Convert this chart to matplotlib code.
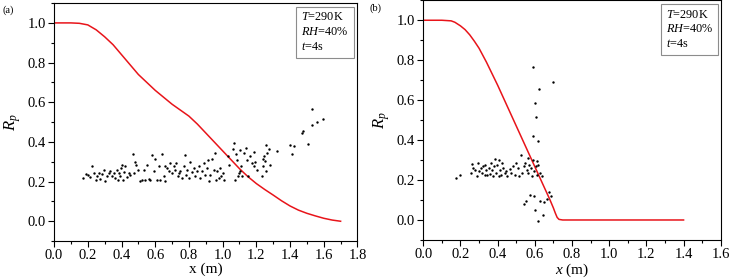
import matplotlib
matplotlib.use("Agg")
import matplotlib.pyplot as plt
from matplotlib.ticker import MultipleLocator

plt.rcParams["font.family"] = ["Liberation Serif", "DejaVu Serif"]
plt.rcParams["mathtext.fontset"] = "custom"
plt.rcParams["mathtext.rm"] = "Liberation Serif"
plt.rcParams["mathtext.it"] = "Liberation Serif:italic"

# --- panel (a) data ---
curve_a_x = [0.0, 0.1, 0.15, 0.2, 0.25, 0.3, 0.35, 0.4, 0.45, 0.5, 0.55, 0.6, 0.65, 0.7,
             0.75, 0.8, 0.85, 0.9, 0.95, 1.0, 1.05, 1.1, 1.15, 1.2, 1.25, 1.3, 1.35, 1.4,
             1.45, 1.5, 1.55, 1.6, 1.65, 1.7]
curve_a_y = [1.0, 1.0, 0.998, 0.99, 0.965, 0.93, 0.89, 0.84, 0.79, 0.74, 0.70, 0.66, 0.625, 0.59,
             0.56, 0.53, 0.49, 0.445, 0.40, 0.355, 0.31, 0.265, 0.225, 0.19, 0.16, 0.132, 0.103, 0.077,
             0.056, 0.04, 0.027, 0.015, 0.006, 0.0]

pts_a_x = [0.174, 0.19, 0.204, 0.214, 0.226, 0.238, 0.25, 0.254, 0.264, 0.274, 0.283, 0.297,
           0.305, 0.313, 0.323, 0.333, 0.343, 0.353, 0.363, 0.373, 0.377, 0.385, 0.392, 0.396,
           0.402, 0.408, 0.416, 0.422, 0.432, 0.442, 0.452, 0.468, 0.472, 0.482, 0.488, 0.496,
           0.511, 0.521, 0.531, 0.541, 0.551, 0.561, 0.571, 0.581, 0.591, 0.601, 0.611, 0.621,
           0.63, 0.64, 0.65, 0.656, 0.66, 0.67, 0.68, 0.69, 0.7, 0.71, 0.72, 0.725, 0.733,
           0.741, 0.749, 0.759, 0.769, 0.775, 0.781, 0.789, 0.799, 0.809, 0.819, 0.829, 0.838,
           0.848, 0.858, 0.868, 0.878, 0.888, 0.898, 0.908, 0.912, 0.918, 0.928, 0.938, 0.947,
           0.953, 0.963, 0.967, 0.977, 0.983, 0.991, 1.003, 1.011, 1.031, 1.037, 1.063, 1.07,
           1.076, 1.082, 1.086, 1.09, 1.096, 1.102, 1.106, 1.11, 1.116, 1.126, 1.136, 1.142,
           1.15, 1.161, 1.175, 1.185, 1.189, 1.195, 1.201, 1.231, 1.237, 1.241, 1.245, 1.249,
           1.255, 1.259, 1.265, 1.276, 1.284, 1.325, 1.399, 1.413, 1.423, 1.473, 1.475, 1.504,
           1.528, 1.53, 1.562, 1.596]
pts_a_y = [0.217, 0.239, 0.232, 0.222, 0.28, 0.244, 0.21, 0.227, 0.244, 0.214, 0.237, 0.257,
           0.202, 0.227, 0.244, 0.252, 0.23, 0.244, 0.219, 0.257, 0.21, 0.244, 0.227, 0.269,
           0.285, 0.21, 0.247, 0.277, 0.224, 0.244, 0.235, 0.339, 0.244, 0.297, 0.285, 0.26,
           0.202, 0.21, 0.26, 0.21, 0.285, 0.214, 0.207, 0.332, 0.252, 0.314, 0.21, 0.277,
           0.207, 0.341, 0.23, 0.202, 0.277, 0.269, 0.252, 0.294, 0.244, 0.277, 0.26, 0.294, 0.227,
           0.244, 0.252, 0.219, 0.277, 0.332, 0.235, 0.26, 0.219, 0.297, 0.247, 0.269, 0.227,
           0.252, 0.277, 0.219, 0.252, 0.294, 0.235, 0.269, 0.311, 0.202, 0.235, 0.314, 0.26,
           0.344, 0.21, 0.252, 0.219, 0.269, 0.227, 0.244, 0.21, 0.327, 0.285, 0.364, 0.394,
           0.21, 0.341, 0.311, 0.227, 0.244, 0.361, 0.252, 0.277, 0.23, 0.344, 0.369, 0.311,
           0.227, 0.327, 0.294, 0.347, 0.277, 0.297, 0.26, 0.227, 0.314, 0.277, 0.327, 0.302,
           0.386, 0.252, 0.344, 0.364, 0.285, 0.356, 0.382, 0.341, 0.377, 0.444, 0.457, 0.389,
           0.566, 0.484, 0.501, 0.516]

# --- panel (b) data ---
curve_b_x = [0.0, 0.1, 0.15, 0.17, 0.2, 0.225, 0.25, 0.275, 0.3, 0.34, 0.4, 0.45, 0.5, 0.55,
             0.6, 0.65, 0.68, 0.7, 0.71, 0.72, 0.73, 0.75, 1.4]
curve_b_y = [1.0, 1.0, 0.997, 0.99, 0.972, 0.953, 0.927, 0.895, 0.86, 0.79, 0.675, 0.573, 0.471,
             0.369, 0.267, 0.165, 0.104, 0.06, 0.035, 0.013, 0.003, 0.0, 0.0]

pts_b_x = [0.178, 0.196, 0.255, 0.262, 0.269, 0.28, 0.287, 0.294, 0.3, 0.309, 0.316, 0.323,
           0.33, 0.333, 0.339, 0.344, 0.351, 0.357, 0.362, 0.369, 0.375, 0.38, 0.387, 0.392,
           0.398, 0.405, 0.408, 0.414, 0.419, 0.424, 0.43, 0.437, 0.446, 0.451, 0.464, 0.473,
           0.482, 0.491, 0.499, 0.508, 0.517, 0.526, 0.533, 0.54, 0.544, 0.548, 0.553, 0.556,
           0.562, 0.566, 0.571, 0.574, 0.58, 0.583, 0.589, 0.59, 0.592, 0.596, 0.598, 0.6,
           0.601, 0.605, 0.608, 0.612, 0.614, 0.615, 0.617, 0.619, 0.623, 0.626, 0.63, 0.64,
           0.644, 0.651, 0.665, 0.678, 0.687, 0.696]
pts_b_y = [0.21, 0.227, 0.235, 0.28, 0.26, 0.252, 0.222, 0.285, 0.243, 0.26, 0.235, 0.268,
           0.227, 0.273, 0.248, 0.227, 0.26, 0.232, 0.285, 0.252, 0.222, 0.268, 0.305, 0.235,
           0.277, 0.302, 0.218, 0.252, 0.227, 0.285, 0.26, 0.235, 0.243, 0.218, 0.255, 0.235,
           0.268, 0.227, 0.285, 0.26, 0.218, 0.323, 0.235, 0.268, 0.082, 0.285, 0.093, 0.252,
           0.31, 0.235, 0.277, 0.127, 0.26, 0.218, 0.418, 0.302, 0.768, 0.118, 0.243, 0.052,
           0.585, 0.268, 0.518, 0.227, 0.293, 0.397, 0.277, -0.007, 0.655, 0.093, 0.235, 0.218,
           0.027, 0.09, 0.105, 0.138, 0.118, 0.693]

fig = plt.figure(figsize=(7.31, 2.8), dpi=100)
ax_a = fig.add_axes([0.074, 0.139, 0.415, 0.850])
ax_b = fig.add_axes([0.579, 0.143, 0.407, 0.856])


def style(ax, xmax):
    ax.set_xlim(0, xmax)
    ax.set_ylim(-0.1, 1.1)
    ax.xaxis.set_major_locator(MultipleLocator(0.2))
    ax.xaxis.set_minor_locator(MultipleLocator(0.1))
    ax.yaxis.set_major_locator(MultipleLocator(0.2))
    ax.yaxis.set_minor_locator(MultipleLocator(0.1))
    ax.tick_params(which="major", direction="out", length=4, width=0.8, labelsize=10.5, pad=2)
    ax.tick_params(which="minor", direction="out", length=2, width=0.8)
    ax.xaxis.set_major_formatter(plt.FuncFormatter(lambda v, p: f"{v:.1f}"))
    ax.yaxis.set_major_formatter(plt.FuncFormatter(lambda v, p: f"{v:.1f}"))
    for s in ax.spines.values():
        s.set_linewidth(0.8)
    ax.set_ylabel(r"$R_p$", fontsize=12, labelpad=3)
    ax.text(0.815, 0.965, "$T$=290K\n$RH$=40%\n$t$=4s", transform=ax.transAxes,
            ha="left", va="top", fontsize=8.8, linespacing=1.3,
            bbox=dict(boxstyle="square,pad=0.4", fc="white", ec="0.55", lw=0.8))


ax_a.plot(curve_a_x, curve_a_y, color="#e8141a", lw=1.1, zorder=2)
ax_a.scatter(pts_a_x, pts_a_y, s=3, color="black", zorder=3, linewidths=0)
style(ax_a, 1.8)
ax_a.set_xlabel("x (m)", fontsize=11, labelpad=0)

ax_b.plot(curve_b_x, curve_b_y, color="#e8141a", lw=1.1, zorder=2)
ax_b.scatter(pts_b_x, pts_b_y, s=3, color="black", zorder=3, linewidths=0)
style(ax_b, 1.6)
ax_b.set_xlabel("$x$ (m)", fontsize=11, labelpad=0)

fig.text(0.003, 0.955, "(a)", fontsize=7.5)
fig.text(0.506, 0.963, "(b)", fontsize=7.5)

fig.savefig("out.png", dpi=100)
